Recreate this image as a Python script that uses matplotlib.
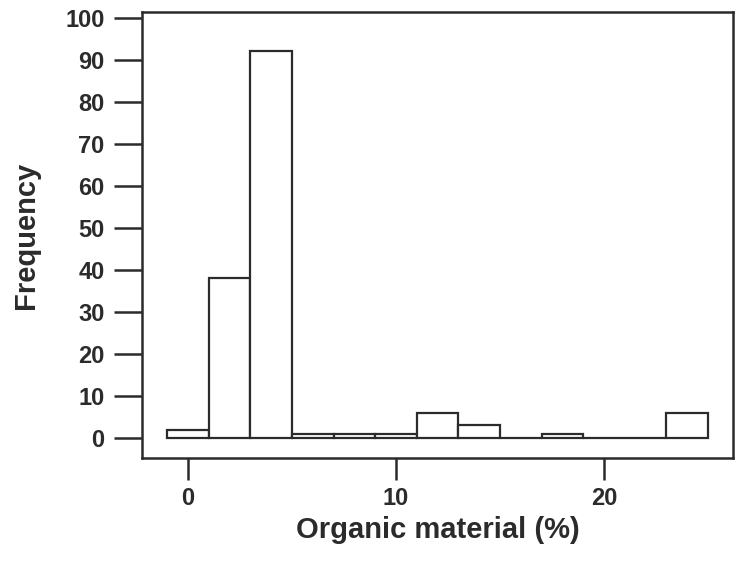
import numpy as np
import matplotlib
matplotlib.use("Agg")
import matplotlib.pyplot as plt

# histogram bins (width 2, starting at -1) and counts per bin
bin_edges = [-1, 1, 3, 5, 7, 9, 11, 13, 15, 17, 19, 21, 23, 25]
counts = [2, 38, 92, 1, 1, 1, 6, 3, 0, 1, 0, 0, 6]
x_ticks = [0, 10, 20]
y_ticks = [0, 10, 20, 30, 40, 50, 60, 70, 80, 90, 100]

plt.rcParams["font.family"] = ["Liberation Sans", "DejaVu Sans"]
ink = "#2b2b2b"

fig = plt.figure(figsize=(7.38, 5.63), dpi=100)
ax = fig.add_axes([142 / 738, 1 - 458 / 563, (733 - 142) / 738, (458 - 12) / 563])

edges = np.array(bin_edges)
ax.bar(edges[:-1], counts, width=np.diff(edges), align="edge",
       facecolor="white", edgecolor=ink, linewidth=1.6)

ax.set_xlim(-2.21, 26.2)
ax.set_ylim(-4.76, 101.4)

for side in ax.spines.values():
    side.set_color(ink)
    side.set_linewidth(1.8)

ax.set_xticks(x_ticks)
ax.set_yticks(y_ticks)
ax.tick_params(axis="y", length=20, width=1.8, color=ink, pad=7,
               labelsize=17)
ax.tick_params(axis="x", length=16, width=1.8, color=ink, pad=5,
               labelsize=17)
for lab in ax.get_xticklabels() + ax.get_yticklabels():
    lab.set_fontweight("bold")
    lab.set_color(ink)

ax.set_xlabel("Organic material (%)", fontsize=21, fontweight="bold",
              color=ink, labelpad=4)
ax.set_ylabel("Frequency", fontsize=21, fontweight="bold", color=ink,
              labelpad=18)

fig.savefig("out.png", dpi=100)
